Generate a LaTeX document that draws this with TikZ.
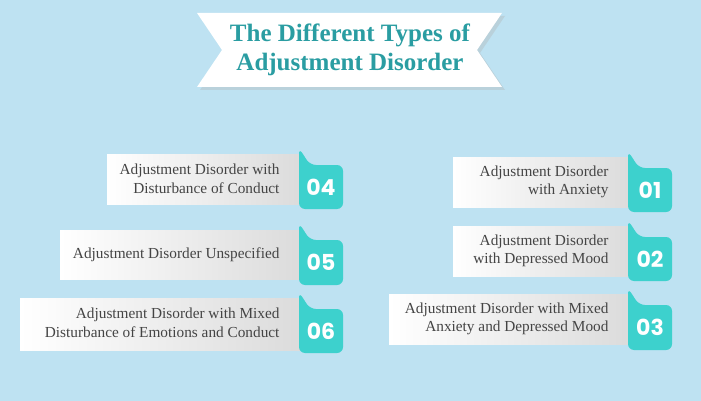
\documentclass[tikz,border=0pt]{standalone}
\usepackage{fontspec}
\setmainfont{Liberation Serif}
\newfontfamily\numfont{Poppins}
\definecolor{bg}{HTML}{BEE2F2}
\definecolor{teal}{HTML}{3DD1CD}
\definecolor{ttl}{HTML}{2A9DA2}
\definecolor{txt}{HTML}{444444}
\begin{document}
\begin{tikzpicture}[x=1pt,y=-1pt,
 card/.style={left color=white,middle color=white,right color=black!14,draw=none},
 lbl/.style={font=\fontsize{15.3}{18.5}\selectfont,text=txt,align=right,anchor=east},
 num/.style={font=\numfont\bfseries\fontsize{22}{24}\selectfont,text=white},
 badgefill/.style={fill=teal,rounded corners=6pt}]
\fill[bg] (0,0) rectangle (701,401);
\useasboundingbox (0,0) rectangle (701,401);
% title banner
\fill[black!30,opacity=0.35] (200,16) -- (505,16) -- (480,53) -- (505,90) -- (200,90) -- (225,53) -- cycle;
\fill[white] (197,13) -- (502,13) -- (477,50) -- (502,87) -- (197,87) -- (222,50) -- cycle;
\node[font=\bfseries\fontsize{25}{29}\selectfont,text=ttl,align=center] (title) at (350,50) {The Different Types of\\Adjustment Disorder};
\newcommand\badge[5]{%
 \path[badgefill] (#1,#2) -- (#1+11,#2+17) -- (#1+44,#2+17) -- (#1+44,#3) -- (#1,#3) -- cycle;
 \node[num] (#4) at (#1+22,{(#2+17+#3)/2}) {#5};}
% left cards
\fill[card] (107,154) rectangle (300,204);
\fill[card] (60,230) rectangle (300,279);
\fill[card] (20,298) rectangle (300,350);
\node[lbl] (t4) at (283,179) {Adjustment Disorder with\\Disturbance of Conduct};
\node[lbl] (t5) at (283,255) {Adjustment Disorder Unspecified};
\node[lbl] (t6) at (283,323) {Adjustment Disorder with Mixed\\Disturbance of Emotions and Conduct};
\badge{299}{148}{209}{b4}{04}
\badge{299}{223}{285}{b5}{05}
\badge{299}{292}{353}{b6}{06}
% right cards
\fill[card] (453,157) rectangle (630,207);
\fill[card] (453,226) rectangle (630,276);
\fill[card] (389,294) rectangle (630,344);
\node[lbl] (t1) at (612,182) {Adjustment Disorder\\with Anxiety};
\node[lbl] (t2) at (612,251) {Adjustment Disorder\\with Depressed Mood};
\node[lbl] (t3) at (612,319) {Adjustment Disorder with Mixed\\Anxiety and Depressed Mood};
\badge{628}{151}{212}{b1}{01}
\badge{628}{220}{281}{b2}{02}
\badge{628}{288}{350}{b3}{03}
\end{tikzpicture}
\end{document}
